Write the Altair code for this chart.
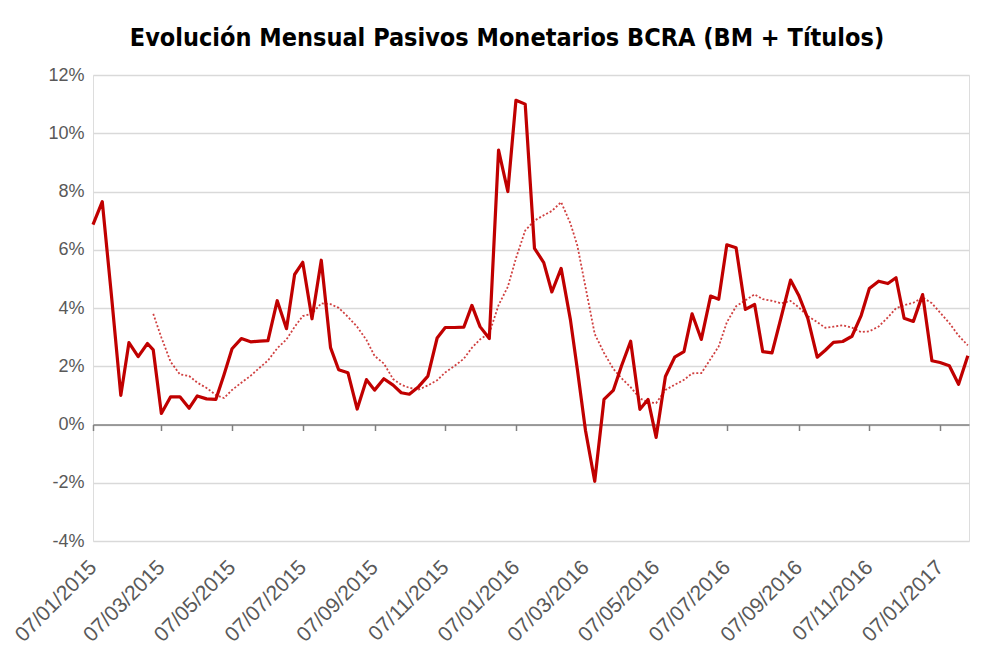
import calendar
import altair as alt
import pandas as pd

# Observation slots: 7th, 15th, 23rd and last day of each month
months = [(2015, m) for m in range(1, 13)] + [(2016, m) for m in range(1, 13)] + [(2017, 1)]
day_slots = [7, 15, 23, "end"]

# Monthly change of BCRA monetary liabilities (%)
values = [
    6.86, 7.65, 4.40, 1.00,    # Jan 2015
    2.81, 2.33, 2.78, 2.56,    # Feb
    0.38, 0.95, 0.95, 0.56,    # Mar
    0.98, 0.88, 0.86, 1.70,    # Apr
    2.60, 2.95, 2.84, 2.86,    # May
    2.88, 4.25, 3.29, 5.15,    # Jun
    5.57, 3.63, 5.64, 2.64,    # Jul
    1.88, 1.78, 0.53, 1.54,    # Aug
    1.18, 1.57, 1.35, 1.09,    # Sep
    1.04, 1.30, 1.66, 2.97,    # Oct
    3.33, 3.33, 3.34, 4.09,    # Nov
    3.36, 2.95, 9.42, 8.00,    # Dec
    11.13, 11.00, 6.05, 5.56,  # Jan 2016
    4.55, 5.36, 3.60, 1.90,    # Feb
    -0.20, -1.95, 0.86, 1.17,  # Mar
    2.00, 2.86, 0.52, 0.86,    # Apr
    -0.44, 1.65, 2.31, 2.50,   # May
    3.80, 2.92, 4.41, 4.30,    # Jun
    6.17, 6.07, 3.95, 4.12,    # Jul
    2.50, 2.46, 3.70, 4.96,    # Aug
    4.44, 3.63, 2.31, 2.55,    # Sep
    2.82, 2.85, 3.03, 3.75,    # Oct
    4.67, 4.92, 4.84, 5.04,    # Nov
    3.65, 3.54, 4.46, 2.19,    # Dec
    2.13, 2.02, 1.38, 2.36,    # Jan 2017
]

dates = []
for (yy, mm) in months:
    for d in day_slots:
        dd = calendar.monthrange(yy, mm)[1] if d == "end" else d
        dates.append(f"{yy:04d}-{mm:02d}-{dd:02d}")

df = pd.DataFrame({"date": dates, "value": values})

tick_months = [(2015, 1), (2015, 3), (2015, 5), (2015, 7), (2015, 9), (2015, 11),
               (2016, 1), (2016, 3), (2016, 5), (2016, 7), (2016, 9), (2016, 11),
               (2017, 1)]
tick_vals = [alt.DateTime(year=y, month=m, date=7, utc=True) for (y, m) in tick_months]
y_ticks = [-4, -2, 0, 2, 4, 6, 8, 10, 12]

RED = "#C00000"
FONT = "Liberation Sans"

x_scale = alt.Scale(type="utc", domain=[alt.DateTime(year=2015, month=1, date=7, utc=True),
                                        alt.DateTime(year=2017, month=2, date=1, utc=True)])
y_scale = alt.Scale(domain=[-4, 12], nice=False)

y_axis = alt.Axis(values=y_ticks, labelExpr="datum.value + '%'", title=None,
                  domain=False, ticks=False, grid=True, gridColor="#d9d9d9",
                  gridWidth=1.5, labelFont=FONT, labelFontSize=18,
                  labelColor="#595959", labelPadding=9)

x_label_axis = alt.Axis(values=tick_vals, labelExpr="utcFormat(datum.value, '%d/%m/%Y')",
                        labelAngle=-45, labelAlign="right", labelBaseline="middle",
                        title=None, domain=False, ticks=False, grid=False,
                        labelFont=FONT, labelFontSize=21, labelColor="#595959",
                        labelPadding=23, orient="bottom", labelOverlap=False)

x_zero_axis = alt.Axis(values=tick_vals, labels=False, title=None, domain=True,
                       domainColor="#808080", domainWidth=1.5, ticks=True,
                       tickColor="#808080", tickSize=6, tickWidth=1.5, grid=False,
                       orient="bottom", offset=-116.5)

base = alt.Chart(df)

main = base.mark_line(color=RED, strokeWidth=3.2, strokeJoin="round").encode(
    x=alt.X("date:T", scale=x_scale, axis=x_label_axis),
    y=alt.Y("value:Q", scale=y_scale, axis=y_axis),
)

ma = base.transform_window(
    ma="mean(value)", cnt="count()", frame=[-7, 0], sort=[{"field": "date"}]
).transform_filter("datum.cnt >= 8").mark_line(
    color=RED, strokeWidth=1.8, strokeDash=[2, 2], opacity=0.75
).encode(
    x=alt.X("date:T", scale=x_scale, axis=x_zero_axis),
    y=alt.Y("ma:Q", scale=y_scale, axis=y_axis),
)

chart = alt.layer(ma, main).resolve_axis(x="independent").properties(
    width=876,
    height=466,
    padding={"left": 85, "top": 67, "right": 12, "bottom": 108},
    autosize=alt.AutoSizeParams(type="none"),
    title=alt.Title("Evolución Mensual Pasivos Monetarios BCRA (BM + Títulos)",
                    font="DejaVu Sans Condensed", fontSize=25, fontWeight="bold",
                    color="#000000", anchor="middle", dx=-24, offset=15),
).configure_view(stroke=None).configure(background="white")

chart.save("out.html", embed_options={"renderer": "svg", "actions": False})
